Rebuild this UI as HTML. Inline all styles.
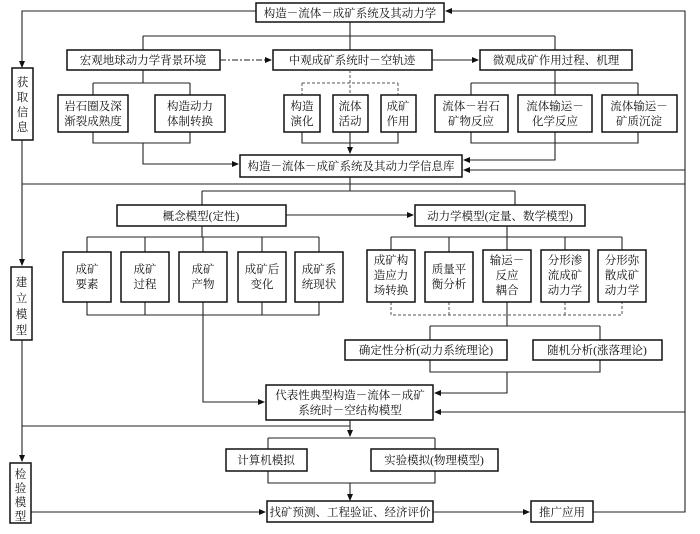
<!DOCTYPE html>
<html><head><meta charset="utf-8"><style>
body{margin:0;background:#fff}
svg{display:block}
text{font-family:"Liberation Serif","Noto Serif CJK SC","Noto Sans CJK SC",serif;font-size:11.5px;fill:#111;text-anchor:middle}
.b{fill:#fff;stroke:#111;stroke-width:1.5}
.l{fill:none;stroke:#222;stroke-width:1.1}
.d{fill:none;stroke:#555;stroke-width:1;stroke-dasharray:3,2}
</style></head><body>
<svg width="700" height="534" viewBox="0 0 700 534" xmlns="http://www.w3.org/2000/svg">
<defs><marker id="a" markerWidth="7" markerHeight="6" refX="6" refY="3" orient="auto" markerUnits="userSpaceOnUse"><path d="M0,0 L7,3 L0,6 z" fill="#111"/></marker></defs>

<!-- right big line -->
<path class="l" d="M593,512 L685,512 L685,11 L446,11" marker-end="url(#a)"/>
<path class="l" d="M685,170 L464,170" marker-end="url(#a)"/>
<path class="l" d="M685,412 L435,412" marker-end="url(#a)"/>
<!-- left line -->
<path class="l" d="M256,11 L22,11 L22,67" marker-end="url(#a)"/>
<path class="l" d="M22,140 L22,265" marker-end="url(#a)"/>
<path class="l" d="M22,340 L22,461" marker-end="url(#a)"/>
<path class="l" d="M22,184 L685,184"/>
<path class="l" d="M22,426 L350,426"/>

<!-- top box -->
<rect class="b" x="256" y="3" width="188" height="19"/>
<text x="350" y="17">构造－流体－成矿系统及其动力学</text>
<path class="l" d="M350,22 L350,36 M143,36 L555,36 M143,36 L143,50 M555,36 L555,50 M350,36 L350,50"/>

<rect class="b" x="67" y="50" width="153" height="20"/><text x="143" y="64">宏观地球动力学背景环境</text>
<rect class="b" x="273" y="50" width="159" height="20"/><text x="352" y="64">中观成矿系统时－空轨迹</text>
<rect class="b" x="480" y="50" width="152" height="20"/><text x="556" y="64">微观成矿作用过程、机理</text>
<path class="l" d="M220,60 L271,60" stroke-dasharray="6,2,2,2" marker-end="url(#a)"/>
<path class="l" d="M432,60 L478,60" marker-end="url(#a)"/>

<!-- macro subs -->
<path class="l" d="M143,70 L143,83 M93,83 L190,83 M93,83 L93,95 M190,83 L190,95 M93,132 L93,143 L190,143 L190,132 M143,143 L143,164 L238,164" marker-end="url(#a)"/>
<rect class="b" x="58" y="95" width="70" height="37"/><text x="93" y="110">岩石圈及深</text><text x="93" y="125">渐裂成熟度</text>
<rect class="b" x="155" y="95" width="70" height="37"/><text x="190" y="110">构造动力</text><text x="190" y="125">体制转换</text>

<!-- meso subs -->
<path class="d" d="M302,83 L398,83 M302,83 L302,95 M398,83 L398,95 M350,70 L350,95"/>
<path class="l" d="M302,132 L302,143 L398,143 L398,132 M350,132 L350,153" marker-end="url(#a)"/>
<rect class="b" x="284" y="95" width="36" height="37"/><text x="302" y="110">构造</text><text x="302" y="125">演化</text>
<rect class="b" x="333" y="95" width="35" height="37"/><text x="350" y="110">流体</text><text x="350" y="125">活动</text>
<rect class="b" x="381" y="95" width="35" height="37"/><text x="398" y="110">成矿</text><text x="398" y="125">作用</text>

<!-- micro subs -->
<path class="l" d="M555,70 L555,83 M471,83 L638,83 M471,83 L471,95 M638,83 L638,95 M555,83 L555,95"/>
<path class="l" d="M471,132 L471,143 L638,143 L638,132 M555,132 L555,143 M555,143 L555,160 L464,160" marker-end="url(#a)"/>
<rect class="b" x="435" y="95" width="73" height="37"/><text x="471" y="110">流体－岩石</text><text x="471" y="125">矿物反应</text>
<rect class="b" x="518" y="95" width="74" height="37"/><text x="555" y="110">流体输运－</text><text x="555" y="125">化学反应</text>
<rect class="b" x="602" y="95" width="75" height="37"/><text x="639" y="110">流体输运－</text><text x="639" y="125">矿质沉淀</text>

<rect class="b" x="240" y="155" width="222" height="22"/><text x="351" y="170">构造－流体－成矿系统及其动力学信息库</text>

<path class="l" d="M350,177 L350,191 M202,191 L515,191 M202,191 L202,205 M515,191 L515,205"/>
<rect class="b" x="117" y="205" width="169" height="21"/><text x="201" y="220">概念模型(定性)</text>
<rect class="b" x="415" y="205" width="170" height="21"/><text x="500" y="220">动力学模型(定量、数学模型)</text>
<path class="l" d="M286,215 L413,215" marker-end="url(#a)"/>

<!-- concept subs -->
<path class="l" d="M202,226 L202,237 M87,237 L319,237 M87,237 L87,252 M145,237 L145,252 M203,237 L203,252 M262,237 L262,252 M319,237 L319,252 M87,302 L87,315 L319,315 L319,302 M145,302 L145,315 M262,302 L262,315"/>
<path class="l" d="M203,302 L203,402 L264,402" marker-end="url(#a)"/>
<rect class="b" x="63" y="252" width="48" height="50"/><text x="87" y="273">成矿</text><text x="87" y="288">要素</text>
<rect class="b" x="121" y="252" width="48" height="50"/><text x="145" y="273">成矿</text><text x="145" y="288">过程</text>
<rect class="b" x="179" y="252" width="48" height="50"/><text x="203" y="273">成矿</text><text x="203" y="288">产物</text>
<rect class="b" x="238" y="252" width="48" height="50"/><text x="262" y="273">成矿后</text><text x="262" y="288">变化</text>
<rect class="b" x="295" y="252" width="48" height="50"/><text x="319" y="273">成矿系</text><text x="319" y="288">统现状</text>

<!-- dynamics subs -->
<path class="l" d="M507,226 L507,237 M391,237 L622,237 M391,237 L391,252 M449,237 L449,252 M507,237 L507,252 M565,237 L565,252 M622,237 L622,252"/>
<path class="d" d="M391,302 L391,315 L622,315 L622,302 M449,302 L449,315 M565,302 L565,315"/>
<path class="l" d="M507,302 L507,326 M430,326 L600,326 M430,326 L430,340 M600,326 L600,340 M430,360 L430,372 L600,372 L600,360"/>
<path class="l" d="M507,372 L507,393 L435,393" marker-end="url(#a)"/>
<rect class="b" x="367" y="250" width="48" height="52"/><text x="391" y="264">成矿构</text><text x="391" y="279">造应力</text><text x="391" y="294">场转换</text>
<rect class="b" x="425" y="252" width="48" height="50"/><text x="449" y="273">质量平</text><text x="449" y="288">衡分析</text>
<rect class="b" x="483" y="250" width="48" height="52"/><text x="507" y="264">输运－</text><text x="507" y="279">反应</text><text x="507" y="294">耦合</text>
<rect class="b" x="541" y="250" width="48" height="52"/><text x="565" y="264">分形渗</text><text x="565" y="279">流成矿</text><text x="565" y="294">动力学</text>
<rect class="b" x="598" y="250" width="48" height="52"/><text x="622" y="264">分形弥</text><text x="622" y="279">散成矿</text><text x="622" y="294">动力学</text>

<rect class="b" x="345" y="340" width="162" height="20"/><text x="426" y="354">确定性分析(动力系统理论)</text>
<rect class="b" x="533" y="340" width="129" height="20"/><text x="597" y="354">随机分析(涨落理论)</text>

<rect class="b" x="266" y="385" width="167" height="35"/><text x="350" y="399">代表性典型构造－流体－成矿</text><text x="350" y="414">系统时－空结构模型</text>

<path class="l" d="M350,420 L350,436" marker-end="url(#a)"/>
<path class="l" d="M268,438 L435,438 M268,438 L268,449 M435,438 L435,449 M268,471 L268,483 L435,483 L435,471"/>
<path class="l" d="M350,483 L350,500" marker-end="url(#a)"/>
<rect class="b" x="226" y="449" width="81" height="22"/><text x="266" y="464">计算机模拟</text>
<rect class="b" x="371" y="449" width="127" height="22"/><text x="434" y="464">实验模拟(物理模型)</text>

<rect class="b" x="267" y="501" width="166" height="21"/><text x="350" y="516">找矿预测、工程验证、经济评价</text>
<rect class="b" x="531" y="501" width="62" height="21"/><text x="562" y="516">推广应用</text>
<path class="l" d="M433,512 L529,512" marker-end="url(#a)"/>
<path class="l" d="M31,512 L265,512" marker-end="url(#a)"/>

<!-- side boxes -->
<rect class="b" x="12" y="68" width="21" height="72"/>
<text x="22.5" y="86">获</text><text x="22.5" y="101">取</text><text x="22.5" y="116">信</text><text x="22.5" y="131">息</text>
<rect class="b" x="11" y="267" width="21" height="73"/>
<text x="21.5" y="286">建</text><text x="21.5" y="302">立</text><text x="21.5" y="318">模</text><text x="21.5" y="334">型</text>
<rect class="b" x="10" y="463" width="21" height="60"/>
<text x="20.5" y="478">检</text><text x="20.5" y="492">验</text><text x="20.5" y="506">模</text><text x="20.5" y="520">型</text>
</svg>
</body></html>
